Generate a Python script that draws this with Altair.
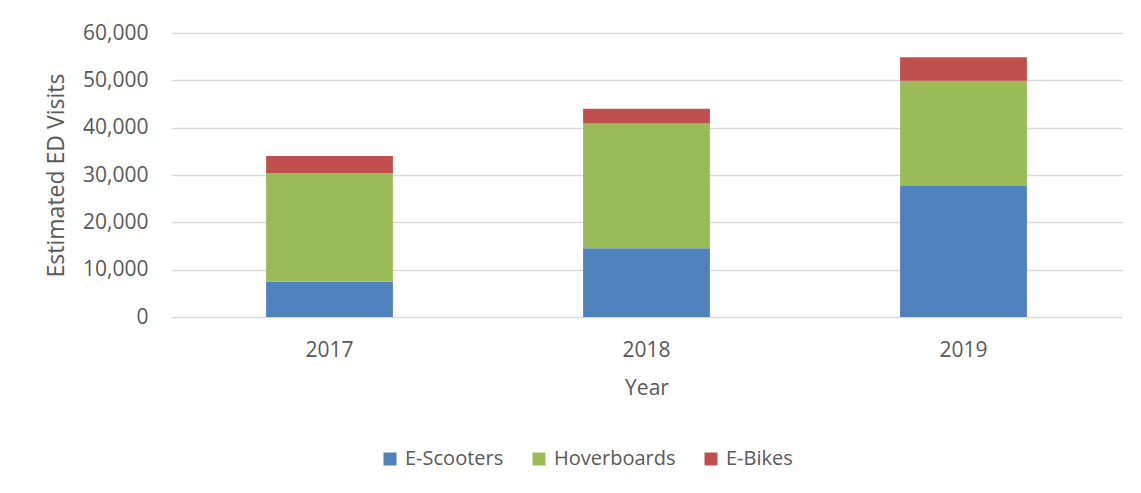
import altair as alt
import pandas as pd

years = ["2017", "2018", "2019"]
series = ["E-Scooters", "Hoverboards", "E-Bikes"]
scooters = [7500, 14500, 27700]
hoverboards = [22900, 26400, 22200]
ebikes = [3600, 3100, 5000]
colors = ["#4f81bd", "#9bbb59", "#c0504d"]
y_ticks = [0, 10000, 20000, 30000, 40000, 50000, 60000]

rows = []
for i, y in enumerate(years):
    for k, (name, vals) in enumerate(zip(series, [scooters, hoverboards, ebikes])):
        rows.append({"Year": y, "Type": name, "Visits": vals[i], "idx": k})
df = pd.DataFrame(rows)

FONT = "Open Sans"
GRAY = "#595959"

chart = alt.Chart(df).mark_bar().encode(
    x=alt.X("Year:N", sort=years,
            scale=alt.Scale(paddingInner=0.6, paddingOuter=0.3),
            axis=alt.Axis(title="Year", labelAngle=0, domain=False, ticks=False,
                          labelPadding=22, titleY=60, titleBaseline="top",
                          grid=False)),
    y=alt.Y("Visits:Q", stack="zero",
            scale=alt.Scale(domain=[0, 60000], nice=False),
            axis=alt.Axis(title="Estimated ED Visits", values=y_ticks,
                          format=",.0f", domain=False, ticks=False, labelPadding=23,
                          titleX=-115, titleBaseline="middle", titleFontSize=23,
                          gridColor="#d9d9d9", gridWidth=1.5)),
    color=alt.Color("Type:N", scale=alt.Scale(domain=series, range=colors),
                    legend=alt.Legend(title=None, orient="none", direction="horizontal",
                                      legendX=209, legendY=416, symbolType="square",
                                      symbolSize=169, symbolStrokeWidth=0, labelOffset=5,
                                      columnPadding=25, labelFont=FONT, labelFontSize=20,
                                      labelColor=GRAY)),
    order=alt.Order("idx:Q", sort="ascending"),
).properties(
    width=951, height=284,
    autosize=alt.AutoSizeParams(type="none"),
    padding={"left": 163, "top": 25, "right": 10, "bottom": 165},
).configure_axis(
    labelFont=FONT, labelFontSize=21, labelColor=GRAY,
    titleFont=FONT, titleFontSize=21, titleColor=GRAY, titleFontWeight="normal",
).configure_view(stroke=None)

chart.save("out.html", embed_options={"renderer": "svg", "actions": False})
